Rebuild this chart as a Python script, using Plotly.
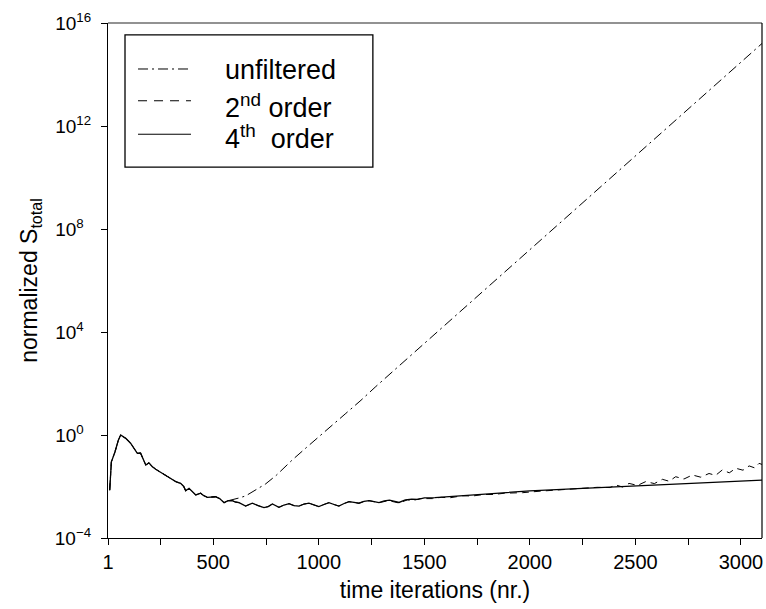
import plotly.graph_objects as go

# ---- data ----
x_fourth = [9, 17, 34, 50, 61, 85, 108, 125, 140, 155, 163, 180, 195, 210, 227, 250, 274, 300,
            322, 345, 360, 369, 385, 400, 417, 440, 455, 472, 490, 511, 530, 551, 570, 590, 605,
            622, 653, 685, 712, 740, 760, 780, 811, 835, 859, 882, 906, 930, 953, 976, 1000,
            1024, 1048, 1072, 1095, 1120, 1143, 1167, 1190, 1214, 1238, 1262, 1285, 1310, 1335,
            1360, 1380, 1410, 1440, 1470, 1500, 1550, 1600, 1650, 1700, 1750, 1800, 1900, 2000,
            2250, 2500, 2750, 3000, 3100]
y_fourth = [7.2e-3, 9.1e-2, 2.2e-1, 6.3e-1, 1.0, 7.4e-1, 4.8e-1, 2.8e-1, 1.95e-1, 2.0e-1,
            1.45e-1, 6.8e-2, 8.3e-2, 6.0e-2, 4.7e-2, 3.5e-2, 2.6e-2, 2.0e-2, 1.55e-2, 1.32e-2,
            1.0e-2, 6.8e-3, 8.5e-3, 6.3e-3, 4.7e-3, 5.5e-3, 4.4e-3, 3.8e-3, 4.0e-3, 4.0e-3,
            3.4e-3, 2.35e-3, 2.8e-3, 2.8e-3, 2.5e-3, 2.35e-3, 1.74e-3, 2.24e-3, 1.82e-3, 1.51e-3,
            1.66e-3, 2.09e-3, 1.55e-3, 1.91e-3, 2.14e-3, 1.82e-3, 1.74e-3, 2.09e-3, 2.24e-3,
            1.91e-3, 1.66e-3, 2.0e-3, 2.35e-3, 2.0e-3, 1.74e-3, 2.19e-3, 2.57e-3, 2.4e-3,
            2.24e-3, 2.63e-3, 2.82e-3, 2.57e-3, 2.35e-3, 2.75e-3, 2.95e-3, 2.63e-3, 2.4e-3,
            3.0e-3, 3.24e-3, 3.16e-3, 3.63e-3, 3.72e-3, 3.98e-3, 4.47e-3, 4.68e-3, 5.13e-3,
            5.37e-3, 6.03e-3, 6.76e-3, 8.5e-3, 1.05e-2, 1.32e-2, 1.62e-2, 1.78e-2]

x_second = [9, 17, 34, 50, 61, 85, 108, 125, 140, 155, 163, 180, 195, 210, 227, 250, 274, 300,
            322, 345, 360, 369, 385, 400, 417, 440, 455, 472, 490, 511, 530, 551, 570, 590, 605,
            622, 653, 685, 712, 740, 760, 780, 811, 835, 859, 882, 906, 930, 953, 976, 1000,
            1024, 1048, 1072, 1095, 1120, 1143, 1167, 1190, 1214, 1238, 1262, 1285, 1330, 1380,
            1420, 1444, 1480, 1538, 1580, 1620, 1680, 1728, 1780, 1830, 1880, 1965, 2050, 2150,
            2265, 2320, 2380, 2407, 2440, 2470, 2510, 2549, 2590, 2628, 2660, 2691, 2730, 2770,
            2810, 2849, 2880, 2912, 2945, 2976, 3010, 3039, 3065, 3086, 3100]
y_second = [7.2e-3, 9.1e-2, 2.2e-1, 6.3e-1, 1.0, 7.4e-1, 4.8e-1, 2.8e-1, 1.95e-1, 2.0e-1,
            1.45e-1, 6.8e-2, 8.3e-2, 6.0e-2, 4.7e-2, 3.5e-2, 2.6e-2, 2.0e-2, 1.55e-2, 1.32e-2,
            1.0e-2, 6.8e-3, 8.5e-3, 6.3e-3, 4.7e-3, 5.5e-3, 4.4e-3, 3.8e-3, 4.0e-3, 4.0e-3,
            3.4e-3, 2.35e-3, 2.8e-3, 2.8e-3, 2.5e-3, 2.35e-3, 1.74e-3, 2.24e-3, 1.82e-3, 1.51e-3,
            1.66e-3, 2.09e-3, 1.55e-3, 1.91e-3, 2.14e-3, 1.82e-3, 1.74e-3, 2.09e-3, 2.24e-3,
            1.91e-3, 1.66e-3, 2.0e-3, 2.35e-3, 2.0e-3, 1.74e-3, 2.19e-3, 2.57e-3, 2.4e-3,
            2.24e-3, 2.63e-3, 2.82e-3, 2.57e-3, 2.35e-3, 2.82e-3, 2.29e-3, 3.02e-3, 2.82e-3,
            3.39e-3, 3.39e-3, 3.8e-3, 3.63e-3, 4.37e-3, 4.27e-3, 4.9e-3, 4.9e-3, 5.5e-3, 5.75e-3,
            6.6e-3, 7.6e-3, 8.5e-3, 9.3e-3, 9.1e-3, 1.15e-2, 9.5e-3, 1.32e-2, 1.1e-2, 1.55e-2,
            1.3e-2, 1.9e-2, 1.6e-2, 2.4e-2, 1.95e-2, 2.8e-2, 2.3e-2, 3.2e-2, 2.7e-2, 4.4e-2,
            3.4e-2, 5.1e-2, 4.3e-2, 6.3e-2, 5.3e-2, 7.9e-2, 7.2e-2]

x_unfilt = [9, 17, 34, 50, 61, 85, 108, 125, 140, 155, 163, 180, 195, 210, 227, 250, 274, 300,
            322, 345, 360, 369, 385, 400, 417, 440, 455, 472, 490, 511, 530, 551, 570, 590, 620,
            653, 700, 748, 800, 874, 940, 1001, 1064, 1128, 1200, 1270, 1500, 2000, 2550, 3000,
            3100]
y_unfilt = [7.2e-3, 9.1e-2, 2.2e-1, 6.3e-1, 1.0, 7.4e-1, 4.8e-1, 2.8e-1, 1.95e-1, 2.0e-1,
            1.45e-1, 6.8e-2, 8.3e-2, 6.0e-2, 4.7e-2, 3.5e-2, 2.6e-2, 2.0e-2, 1.55e-2, 1.32e-2,
            1.0e-2, 6.8e-3, 8.5e-3, 6.3e-3, 4.7e-3, 5.5e-3, 4.4e-3, 3.8e-3, 4.0e-3, 4.0e-3,
            3.4e-3, 2.35e-3, 2.8e-3, 3.0e-3, 3.55e-3, 4.3e-3, 7.1e-3, 1.26e-2, 2.8e-2, 1.07e-1,
            3.2e-1, 8.5e-1, 2.4, 6.9, 2.24e1, 7.6e1, 3.6e3, 1.6e7, 1.6e11, 3.0e14, 1.6e15]

x_tickvals = [1, 250, 500, 750, 1000, 1250, 1500, 1750, 2000, 2250, 2500, 2750, 3000]
x_ticktext = ["1", "", "500", "", "1000", "", "1500", "", "2000", "", "2500", "", "3000"]
y_tickvals = [1e-4, 1e0, 1e4, 1e8, 1e12, 1e16]
y_ticktext = ["10<sup>\u22124</sup>", "10<sup>0\u00a0\u00a0</sup>", "10<sup>4\u00a0\u00a0</sup>",
              "10<sup>8\u00a0\u00a0</sup>", "10<sup>12</sup>", "10<sup>16</sup>"]

series_names = ["unfiltered", "2<sup>nd</sup> order", "4<sup>th</sup>  order"]

FONT = "Liberation Sans, Arial, Helvetica, sans-serif"

fig = go.Figure()
fig.add_trace(go.Scatter(x=x_unfilt, y=y_unfilt, mode="lines", name="unfiltered",
                         line=dict(color="black", width=1, dash="10px,4px,2px,4px")))
fig.add_trace(go.Scatter(x=x_second, y=y_second, mode="lines", name="2nd order",
                         line=dict(color="black", width=1, dash="7px,5px")))
fig.add_trace(go.Scatter(x=x_fourth, y=y_fourth, mode="lines", name="4th order",
                         line=dict(color="black", width=1.3)))

# frame: grey top edge, black right edge
shapes = [
    dict(type="line", xref="paper", yref="paper", x0=0, x1=1, y0=1, y1=1,
         line=dict(color="#6e6e6e", width=1.6), layer="above"),
    dict(type="line", xref="paper", yref="paper", x0=1, x1=1, y0=0, y1=1,
         line=dict(color="black", width=1.2), layer="above"),
]

# custom legend box (paper coordinates of the plotting area)
dashes = ["10px,4px,2px,4px", "9px,7px", "solid"]
row_y = [0.9107, 0.849, 0.784]
text_y = [0.908, 0.839, 0.779]
shapes.append(dict(type="rect", xref="paper", yref="paper", x0=0.026, x1=0.405, y0=0.720,
                   y1=0.977, line=dict(color="black", width=1.3), fillcolor="white",
                   layer="above"))
annotations = []
for i, name in enumerate(series_names):
    shapes.append(dict(type="line", xref="paper", yref="paper", x0=0.0459, x1=0.1269,
                       y0=row_y[i], y1=row_y[i], layer="above",
                       line=dict(color="black", width=1, dash=dashes[i])))
    annotations.append(dict(xref="paper", yref="paper", x=0.1758, y=text_y[i], text=name,
                            showarrow=False, xanchor="left", yanchor="middle",
                            font=dict(family=FONT, size=27, color="black")))

fig.update_layout(
    width=766, height=609,
    margin=dict(l=108, r=4, t=23, b=71),
    paper_bgcolor="white", plot_bgcolor="white",
    showlegend=False,
    font=dict(family=FONT, size=20, color="black"),
    shapes=shapes, annotations=annotations,
    xaxis=dict(range=[1, 3100], tickvals=x_tickvals, ticktext=x_ticktext,
               ticks="outside", ticklen=6, tickwidth=1, tickcolor="black",
               showline=True, linecolor="black", linewidth=1.2, mirror=False,
               showgrid=False, zeroline=False,
               tickfont=dict(family=FONT, size=20),
               title=dict(text="time iterations (nr.)", font=dict(family=FONT, size=23),
                          standoff=9)),
    yaxis=dict(type="log", range=[-4, 16], tickvals=y_tickvals, ticktext=y_ticktext,
               ticks="outside", ticklen=6, tickwidth=1, tickcolor="black",
               showline=True, linecolor="black", linewidth=1.2, mirror=False,
               showgrid=False, zeroline=False, ticklabelstandoff=6,
               tickfont=dict(family=FONT, size=19),
               title=dict(text="normalized S<sub>total</sub>", font=dict(family=FONT, size=23),
                          standoff=10)),
)

fig.write_html("out.html", config={"displayModeBar": False},
               post_script="document.body.style.margin='0';document.body.style.padding='0';"
                           "document.documentElement.style.overflow='hidden';")
